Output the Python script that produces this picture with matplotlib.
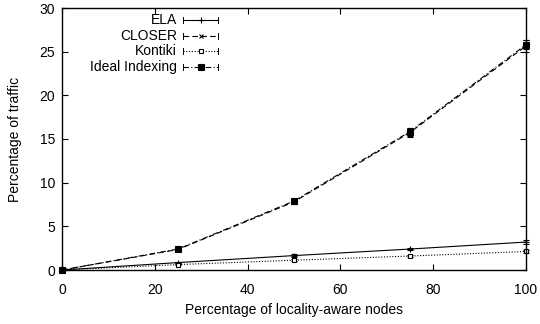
import matplotlib
matplotlib.use("Agg")
import matplotlib.pyplot as plt

plt.rcParams['font.family'] = ['Liberation Sans', 'DejaVu Sans']

x = [0, 25, 50, 75, 100]
ela = [0.0, 0.85, 1.65, 2.4, 3.2]
ela_err = [0.0, 0.1, 0.15, 0.15, 0.2]
closer = [0.0, 2.35, 7.8, 15.75, 25.65]
closer_err = [0.0, 0.15, 0.25, 0.5, 0.65]
kontiki = [0.0, 0.62, 1.12, 1.6, 2.12]
kontiki_err = [0.0, 0.08, 0.1, 0.12, 0.15]
ideal = [0.0, 2.4, 7.9, 15.85, 25.8]
ideal_err = [0.0, 0.15, 0.25, 0.45, 0.55]

labels = ["ELA", "CLOSER", "Kontiki", "Ideal Indexing"]
xticks = [0, 20, 40, 60, 80, 100]
yticks = [0, 5, 10, 15, 20, 25, 30]

FS = 10

fig = plt.figure(figsize=(5.4, 3.24), dpi=100)
ax = fig.add_axes([62/540, 1-270/324, (526-62)/540, (270-8)/324])

styles = [
    dict(ls='-', marker='+', ms=4.5, mfc='black'),
    dict(ls=(0, (5, 3)), marker='x', ms=3.5, mfc='black'),
    dict(ls=(0, (1, 1.5)), marker='s', ms=3.3, mfc='white'),
    dict(ls=(0, (5, 2, 1, 2)), marker='s', ms=3.8, mfc='black'),
]
series = [(ela, ela_err), (closer, closer_err), (kontiki, kontiki_err), (ideal, ideal_err)]

for (y, e), st in zip(series, styles):
    ax.errorbar(x, y, yerr=e, color='black', lw=0.8, ls=st['ls'], marker=st['marker'],
                ms=st['ms'], mfc=st['mfc'], mec='black', mew=0.8,
                ecolor='black', elinewidth=0.7, capsize=2.5, capthick=0.7, clip_on=False)

ax.set_xlim(0, 100)
ax.set_ylim(0, 30)
ax.set_xticks(xticks)
ax.set_yticks(yticks)
ax.tick_params(direction='in', length=4, width=0.8, top=True, right=True,
               labelsize=FS, colors='black')
ax.tick_params(axis='x', pad=9)
ax.tick_params(axis='y', pad=5)
for s in ax.spines.values():
    s.set_linewidth(1.0)

ax.set_xlabel("Percentage of locality-aware nodes", fontsize=FS)
ax.set_ylabel("Percentage of traffic", fontsize=FS)
ax.xaxis.label.set_verticalalignment('center')
ax.yaxis.label.set_verticalalignment('center')
ax.xaxis.set_label_coords(0.5, (270 - 310) / 262)
ax.yaxis.set_label_coords((15 - 62) / 464, 0.5)

# gnuplot-style key
tx = (177-62)/464
x0 = (183-62)/464
x1 = (218-62)/464
xm = (x0 + x1) / 2
for i, (lab, st) in enumerate(zip(labels, styles)):
    yy = 1 - (20 - 8 + i*15.7) / 262
    ax.text(tx, yy, lab, transform=ax.transAxes, ha='right', va='center', fontsize=FS)
    ax.plot([x0, x1], [yy, yy], transform=ax.transAxes, color='black', lw=0.8, ls=st['ls'])
    cap = 3/262
    for xc in (x0, x1):
        ax.plot([xc, xc], [yy-cap, yy+cap], transform=ax.transAxes, color='black', lw=0.7)
    ax.plot([xm], [yy], transform=ax.transAxes, color='black', marker=st['marker'],
            ms=st['ms'], mfc=st['mfc'], mec='black', mew=0.8, ls='none')

fig.savefig("out.png", dpi=100)
